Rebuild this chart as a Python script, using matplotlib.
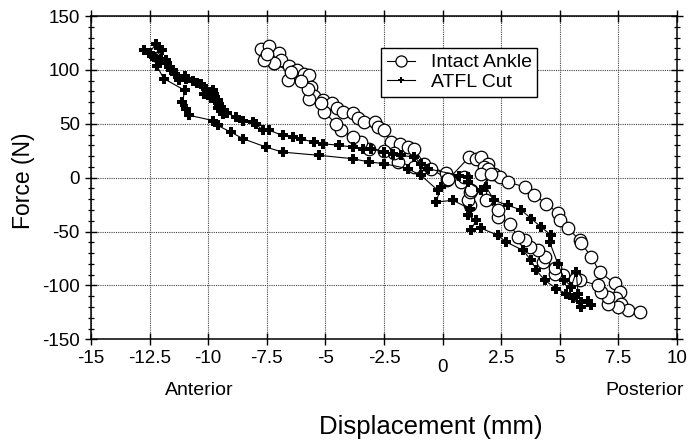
import matplotlib
matplotlib.use('Agg')
import matplotlib.pyplot as plt
import matplotlib.transforms as mtransforms
from matplotlib.ticker import MultipleLocator

plt.rcParams['font.family'] = ['Liberation Sans', 'DejaVu Sans']
plt.rcParams['axes.unicode_minus'] = False

# Intact ankle: down the posterior branch, then back up the anterior branch
intact_x = [-7.76, -7.4, -7.0, -7.55, -7.2, -6.9, -6.55, -6.3, -6.2, -5.9, -5.7,
            -5.6, -5.5, -5.1, -4.7, -4.5, -4.26, -3.84, -3.6, -3.35, -2.9,
            -2.75, -2.5, -2.2, -1.8, -1.49, -1.2, -0.8, 0.15, 0.2,
            1.13, 1.43, 1.65, 1.93, 1.78, 2.2, 2.43, 2.79, 3.5, 3.92, 4.42,
            4.92, 5.0, 5.35, 5.85, 5.92, 6.35, 6.7, 7.34, 7.56, 7.41, 7.63,
            7.9, 8.41,
            7.5, 7.06, 7.06, 6.77, 6.63, 5.85, 5.63, 5.13, 4.78, 4.78, 4.28,
            4.35, 4.07, 3.71, 3.5, 3.21, 2.86, 2.36, 2.36, 1.86, 1.93, 1.65,
            2.07, 1.15, 1.08, 1.15, 1.22, 0.79, 0.93, 0.22,
            -0.5, -1.2, -1.9, -2.07, -2.5, -3.13, -3.5, -3.84, -4.34, -4.55,
            -5.06, -5.2, -5.7, -5.76, -6.05, -6.6, -6.47, -7.2, -7.6, -7.5]
intact_y = [119, 122, 116, 112, 106, 109, 104, 99, 99.5, 96, 95,
            84, 76, 72, 69, 65, 61, 59.6, 55, 51.6, 51.6,
            47, 44, 33, 31, 28.4, 27, 13, 4, -2.5,
            19, 17.6, 19, 13, 10, 3.7, 0.6, -4, -8.7, -16.4, -24,
            -33, -39.6, -47, -58, -61, -73.6, -87.6, -98, -106, -112, -117,
            -123, -124.7,
            -120, -117, -111, -106, -100, -95, -93.7, -90.6, -89, -84, -78,
            -73.6, -67.4, -64, -58, -55, -42.7, -36.5, -30, -21, 8.3, 3.7,
            3.7, -25.7, -21, -13.4, -11.8, -4, 0.6, -1,
            8, 10, 14.5, 22.5, 25, 27, 33, 37.7, 44, 50,
            61, 69, 72.6, 82.5, 90, 91, 98, 106, 109, 115]

# ATFL cut: down the upper branch, then back along the lower branch
atfl_x = [-12.74, -12.5, -12.24, -12.1, -12.3, -11.96, -12.0, -11.8, -11.74,
          -11.67, -11.6, -11.5, -11.4, -11.26, -11.0, -10.96, -10.67, -10.5,
          -10.3, -10.1, -10.2, -9.8, -9.75, -9.9, -9.7, -9.6, -9.54, -9.6,
          -9.47, -9.39, -9.2, -8.8, -8.5, -8.1, -7.97, -7.68, -7.4, -6.83,
          -6.4, -6.05, -5.5, -5.12, -4.41, -3.84, -3.4, -3.05, -2.49, -2.1,
          -1.77, -1.2, -0.92, -0.63, 0.72, 1.08, 1.08, 1.65, 1.86, 2.2, 2.79,
          3.35, 3.78, 4.2, 4.64, 4.57, 4.92, 5.2, 5.49, 5.7, 5.78, 5.92, 6.2,
          6.35,
          5.92, 5.56, 5.28, 4.85, 4.35, 4.0, 3.78, 3.43, 2.71, 2.36, 1.65,
          1.2, 1.43, 1.08, 1.15, 0.44, -0.28, -0.06, -0.2, -0.92, -1.49,
          -2.49, -3.13, -3.84, -5.26, -6.83, -7.54, -8.5, -9.04, -9.6, -9.8,
          -10.8, -10.96, -11.1, -11.0, -11.9, -12.2, -12.4]
atfl_y = [118, 116, 124, 120, 112, 118, 110, 108.8, 106,
          102.6, 99.5, 99.5, 96, 91, 94, 92, 90, 88,
          87, 82.6, 78, 81, 78, 74, 72, 71.7, 68.6, 65,
          65.5, 59.4, 60, 56, 53, 52, 50, 43.9, 44, 39.2,
          38, 36, 33, 31.5, 30, 28.4, 27, 27, 23.7, 22,
          20.7, 19, 13, 8.3, 2, 0.6, -4, -11.8, -8.7, -21, -25.7,
          -30, -38, -45.8, -53.5, -60, -80, -95, -101, -87.6, -107.6, -115, -114,
          -118.5,
          -120, -112, -107.6, -103, -95, -86, -76.7, -67.4, -59.7, -53.5, -47,
          -49, -39.6, -35, -28.8, -21, -22.6, -8.7, -11.8, 2.1, 8.3,
          13, 14.5, 17.6, 20.7, 23.7, 28.4, 36, 42.3, 48.5, 53,
          57.8, 64, 70, 81, 92, 104, 113]

x_ticks = [-15, -12.5, -10, -7.5, -5, -2.5, 0, 2.5, 5, 7.5, 10]
x_tick_labels = ['-15', '-12.5', '-10', '-7.5', '-5', '-2.5', '0', '2.5', '5', '7.5', '10']
y_ticks = [-150, -100, -50, 0, 50, 100, 150]

fig = plt.figure(figsize=(6.97, 4.47), dpi=100)
ax = fig.add_axes([0.1306, 0.2409, 0.8407, 0.7233])

ax.plot(intact_x, intact_y, '-o', color='black', lw=0.8, markersize=9,
        markerfacecolor='white', markeredgecolor='black', markeredgewidth=0.9,
        label='Intact Ankle', zorder=3)
ax.plot(atfl_x, atfl_y, '-P', color='black', lw=0.8, markersize=7,
        markeredgewidth=0, label='ATFL Cut', zorder=4)

ax.set_xlim(-15, 10)
ax.set_ylim(-150, 150)
ax.set_xticks(x_ticks)
ax.set_xticklabels(x_tick_labels)
ax.set_yticks(y_ticks)
ax.yaxis.set_minor_locator(MultipleLocator(10))

ax.grid(True, which='major', color='#444444', linestyle=(0, (1, 1)), lw=0.8)
ax.set_axisbelow(True)
for sp in ax.spines.values():
    sp.set_linewidth(1.1)

ax.tick_params(which='major', direction='inout', length=8, width=1,
               labelsize=13.5, pad=4, top=True, right=True)
ax.tick_params(axis='y', which='minor', direction='inout', length=5, width=0.9,
               left=True, right=True)

# the zero label sits a bit lower than the others
for lab, val in zip(ax.get_xticklabels(), x_ticks):
    if val == 0:
        lab.set_y(-0.025)

ax.set_ylabel('Force (N)', fontsize=16.5)
ax.yaxis.set_label_coords(-0.095, 0.49)
ax.set_xlabel('Displacement (mm)', fontsize=18.5)
ax.xaxis.set_label_coords(0.58, -0.235)

trans = mtransforms.blended_transform_factory(ax.transData, ax.transAxes)
ax.text(-10.4, -0.157, 'Anterior', transform=trans, ha='center', va='center', fontsize=14)
ax.text(8.6, -0.157, 'Posterior', transform=trans, ha='center', va='center', fontsize=14)

leg = ax.legend(loc='upper left', bbox_to_anchor=(0.495, 0.901), borderaxespad=0,
                fontsize=14, frameon=True, fancybox=False, edgecolor='black',
                framealpha=1, handlelength=1.45, handletextpad=0.8,
                labelspacing=0.1, borderpad=0.3)
leg.get_frame().set_linewidth(1.0)
leg.legend_handles[0].set_markersize(8)
leg.legend_handles[1].set_markersize(5)

fig.savefig('out.png', dpi=100)
